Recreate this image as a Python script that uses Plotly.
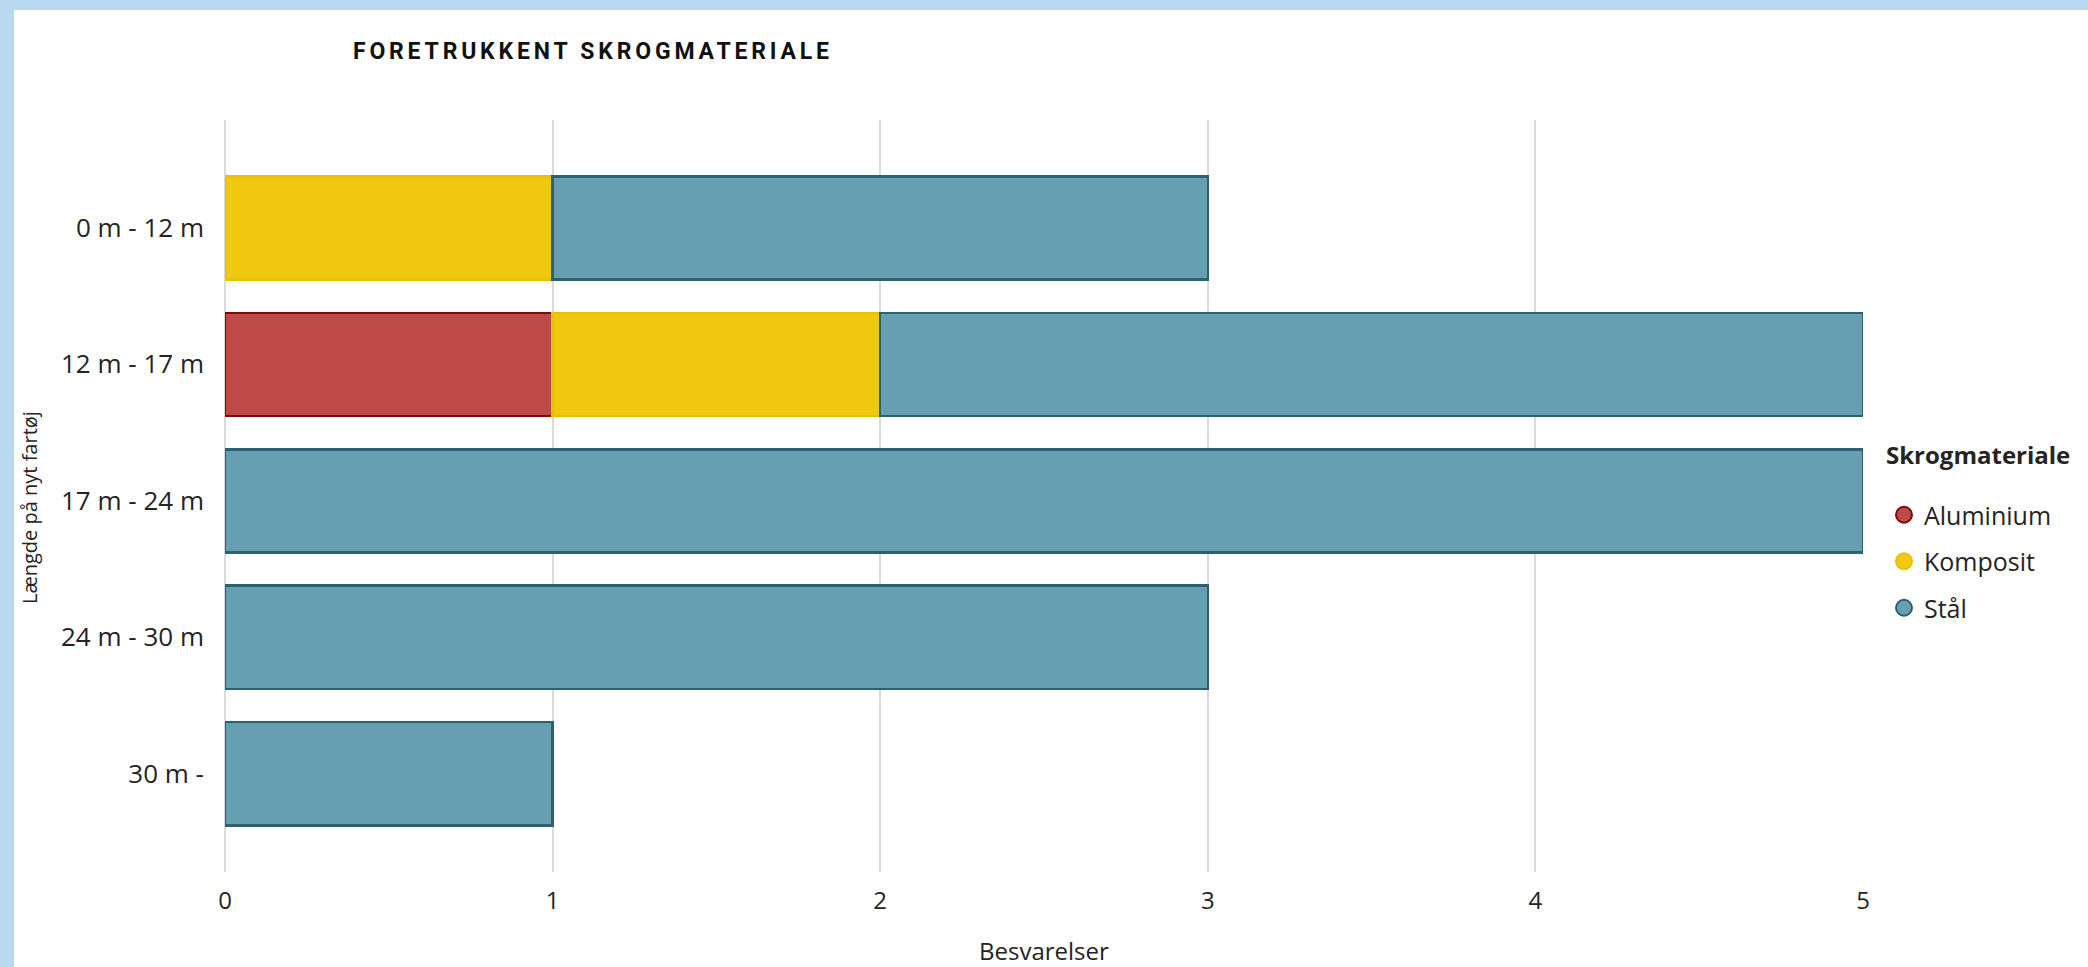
import plotly.graph_objects as go

# --- data -----------------------------------------------------------------
categories = ["0 m - 12 m", "12 m - 17 m", "17 m - 24 m", "24 m - 30 m", "30 m -"]
aluminium = [0, 1, 0, 0, 0]
komposit = [1, 1, 0, 0, 0]
staal = [2, 3, 5, 3, 1]
x_ticks = [0, 1, 2, 3, 4, 5]

series = [
    ("Aluminium", aluminium, "#BE4A48", "#7A0C0C"),
    ("Komposit", komposit, "#F0C80F", "#E9C000"),
    ("Stål", staal, "#669FB1", "#2F6070"),
]

# --- page geometry (pixels) ---------------------------------------------
W, H = 2088, 967
PL, PR, PT, PB = 225, 1863, 120, 872   # plot area edges


def px_x(p):
    return (p - PL) / (PR - PL)


def px_y(p):
    return (PB - p) / (PB - PT)


FONT = "Open Sans"
TEXT = "#252423"

fig = go.Figure()

for name, vals, fill, edge in series:
    fig.add_trace(go.Bar(
        name=name,
        y=categories,
        x=[v if v else None for v in vals],
        orientation="h",
        marker=dict(color=fill, line=dict(color=edge, width=2.5)),
        showlegend=False,
        hoverinfo="x+y+name",
    ))

# round legend swatches
for name, vals, fill, edge in series:
    fig.add_trace(go.Scatter(
        name=name,
        x=[None], y=[None],
        mode="markers",
        marker=dict(symbol="circle", size=19, color=fill, line=dict(color=edge, width=2)),
        legendgroup=name,
        showlegend=True,
    ))

# white card on the light-blue page
fig.add_shape(
    type="rect", xref="paper", yref="paper",
    x0=px_x(14), x1=px_x(W + 20), y0=px_y(H + 20), y1=px_y(10),
    fillcolor="white", line=dict(width=0), layer="below",
)

fig.add_annotation(
    text="Længde på nyt fartøj", textangle=-90,
    xref="paper", yref="paper", x=px_x(29), y=px_y(508),
    xanchor="center", yanchor="middle",
    showarrow=False, font=dict(family=FONT, size=20, color=TEXT),
)
fig.add_annotation(
    text="Besvarelser",
    xref="paper", yref="paper", x=px_x(1044), y=px_y(950),
    xanchor="center", yanchor="middle",
    showarrow=False, font=dict(family=FONT, size=24, color=TEXT),
)
fig.add_annotation(
    text="<b>Skrogmateriale</b>",
    xref="paper", yref="paper", x=px_x(1884), y=px_y(454),
    xanchor="left", yanchor="middle",
    showarrow=False, font=dict(family=FONT, size=24, color=TEXT),
)

fig.update_layout(
    width=W, height=H,
    barmode="stack",
    bargap=0.245,
    paper_bgcolor="#B9D9F3",
    plot_bgcolor="rgba(0,0,0,0)",
    margin=dict(l=PL, r=W - PR, t=PT, b=H - PB, autoexpand=False),
    title=dict(
        text="<b>FORETRUKKENT SKROGMATERIALE</b>",
        x=353 / W, xanchor="left", xref="container",
        y=1 - 51 / H, yanchor="middle", yref="container",
        font=dict(family="Roboto", size=23, color="#111111"),
    ),
    xaxis=dict(
        range=[0, 5],
        tickvals=x_ticks,
        showgrid=True, gridcolor="#DADADA", gridwidth=2,
        zeroline=True, zerolinecolor="#DADADA", zerolinewidth=2,
        showline=False,
        tickfont=dict(family=FONT, size=24, color=TEXT),
        ticklabelstandoff=12,
    ),
    yaxis=dict(
        categoryorder="array", categoryarray=categories,
        autorange=False, range=[4.72, -0.79],
        showgrid=False, zeroline=False, showline=False,
        tickfont=dict(family=FONT, size=26, color=TEXT),
        ticklabelstandoff=20,
    ),
    legend=dict(
        x=px_x(1884), xanchor="left",
        y=px_y(492), yanchor="top",
        font=dict(family=FONT, size=25, color=TEXT),
        bgcolor="rgba(0,0,0,0)",
        tracegroupgap=11,
        itemsizing="trace",
    ),
    showlegend=True,
)

fig.write_html(
    "out.html",
    post_script="document.querySelectorAll('.gtitle').forEach(function(t){t.style.letterSpacing='3.8px';});",
)
